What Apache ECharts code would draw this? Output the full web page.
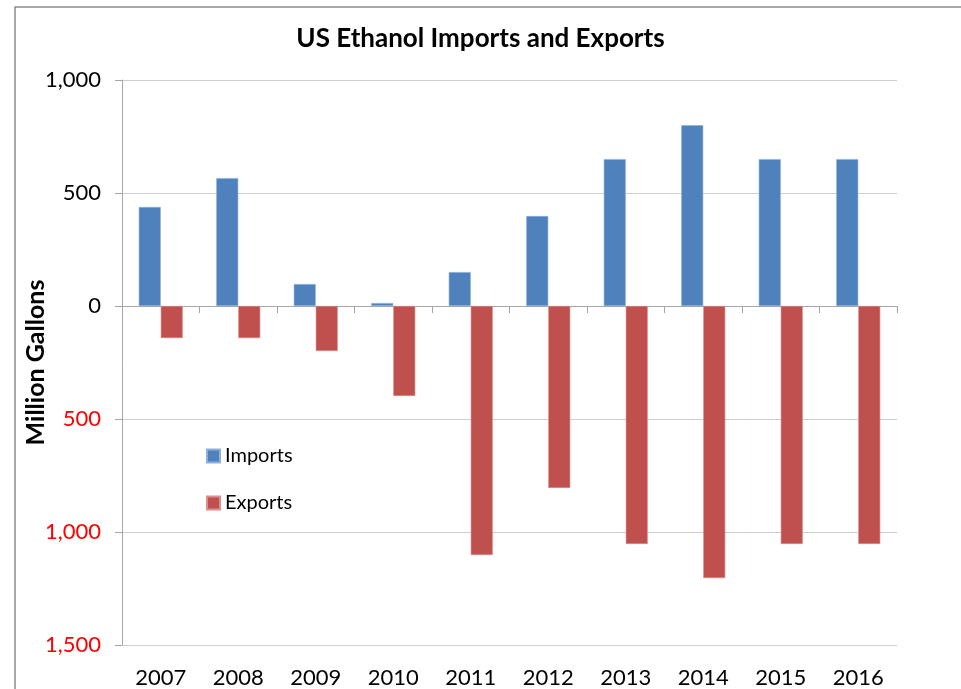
<!DOCTYPE html>
<html>
<head>
<meta charset="utf-8">
<script src="https://cdn.jsdelivr.net/npm/echarts@6/dist/echarts.min.js"></script>
<style>
html, body { margin: 0; padding: 0; background: #fff; }
#main { width: 961px; height: 689px; }
</style>
</head>
<body>
<div id="main"></div>
<script>
var years = ['2007', '2008', '2009', '2010', '2011', '2012', '2013', '2014', '2015', '2016'];
var imports = [438, 566, 97, 13, 150, 398, 650, 800, 650, 650];
var exports = [-142, -142, -199, -398, -1102, -805, -1053, -1204, -1053, -1053];

var chart = echarts.init(document.getElementById('main'));

function fmtNum(v) {
    return Math.abs(v).toString().replace(/\B(?=(\d{3})+(?!\d))/g, ',');
}

var option = {
    backgroundColor: '#fff',
    textStyle: { fontFamily: 'Lato' },
    animation: false,
    title: {
        text: 'US Ethanol Imports and Exports',
        left: 'center',
        top: 21,
        textStyle: { fontSize: 26, fontWeight: 'bold', color: '#000', fontFamily: 'Lato' }
    },
    graphic: [{
        type: 'rect',
        shape: { x: 15, y: 7, width: 1200, height: 1200 },
        style: { fill: 'none', stroke: '#8c8c8c', lineWidth: 1.5 },
        silent: true
    }],
    legend: {
        orient: 'vertical',
        left: 201,
        top: 441,
        itemWidth: 13,
        itemHeight: 13,
        itemGap: 27,
        icon: 'rect',
        data: ['Imports', 'Exports'],
        textStyle: { fontSize: 20, color: '#000', fontFamily: 'Lato' }
    },
    grid: { left: 122, right: 64, top: 80, bottom: 43 },
    xAxis: [{
        type: 'category',
        data: years,
        axisLine: { onZero: true, lineStyle: { color: '#a6a6a6', width: 1 } },
        axisTick: { show: true, length: 7, lineStyle: { color: '#a6a6a6' } },
        axisLabel: { show: false }
    }, {
        type: 'category',
        data: years,
        position: 'bottom',
        axisLine: { show: false, onZero: false },
        axisTick: { show: false },
        axisLabel: { fontSize: 22, color: '#000', margin: 22, fontFamily: 'Lato' }
    }],
    yAxis: {
        type: 'value',
        min: -1500,
        max: 1000,
        interval: 500,
        name: 'Million Gallons',
        nameLocation: 'middle',
        nameGap: 74,
        nameMoveOverlap: false,
        nameTextStyle: { fontSize: 25, fontWeight: 'bold', color: '#000', fontFamily: 'Lato' },
        axisLine: { show: true, lineStyle: { color: '#a6a6a6' } },
        axisTick: { show: true, length: 7, lineStyle: { color: '#a6a6a6' } },
        axisLabel: {
            fontSize: 22,
            margin: 21,
            formatter: function (v) {
                return v < 0 ? '{neg|' + fmtNum(v) + '}' : '{pos|' + fmtNum(v) + '}';
            },
            rich: {
                pos: { color: '#000', fontSize: 22, fontFamily: 'Lato' },
                neg: { color: '#ff0000', fontSize: 22, fontFamily: 'Lato' }
            }
        },
        splitLine: { lineStyle: { color: '#cfcfcf', width: 1 } }
    },
    series: [{
        name: 'Imports',
        type: 'bar',
        xAxisIndex: 0,
        data: imports,
        barWidth: 22,
        barGap: '0%',
        itemStyle: { color: '#4f81bd', borderColor: '#8fb0dc', borderWidth: 0.6 }
    }, {
        name: 'Exports',
        type: 'bar',
        xAxisIndex: 0,
        data: exports,
        barWidth: 22,
        barGap: '0%',
        itemStyle: { color: '#c0504d', borderColor: '#dc8f8d', borderWidth: 0.6 }
    }]
};

chart.setOption(option);
</script>
</body>
</html>
